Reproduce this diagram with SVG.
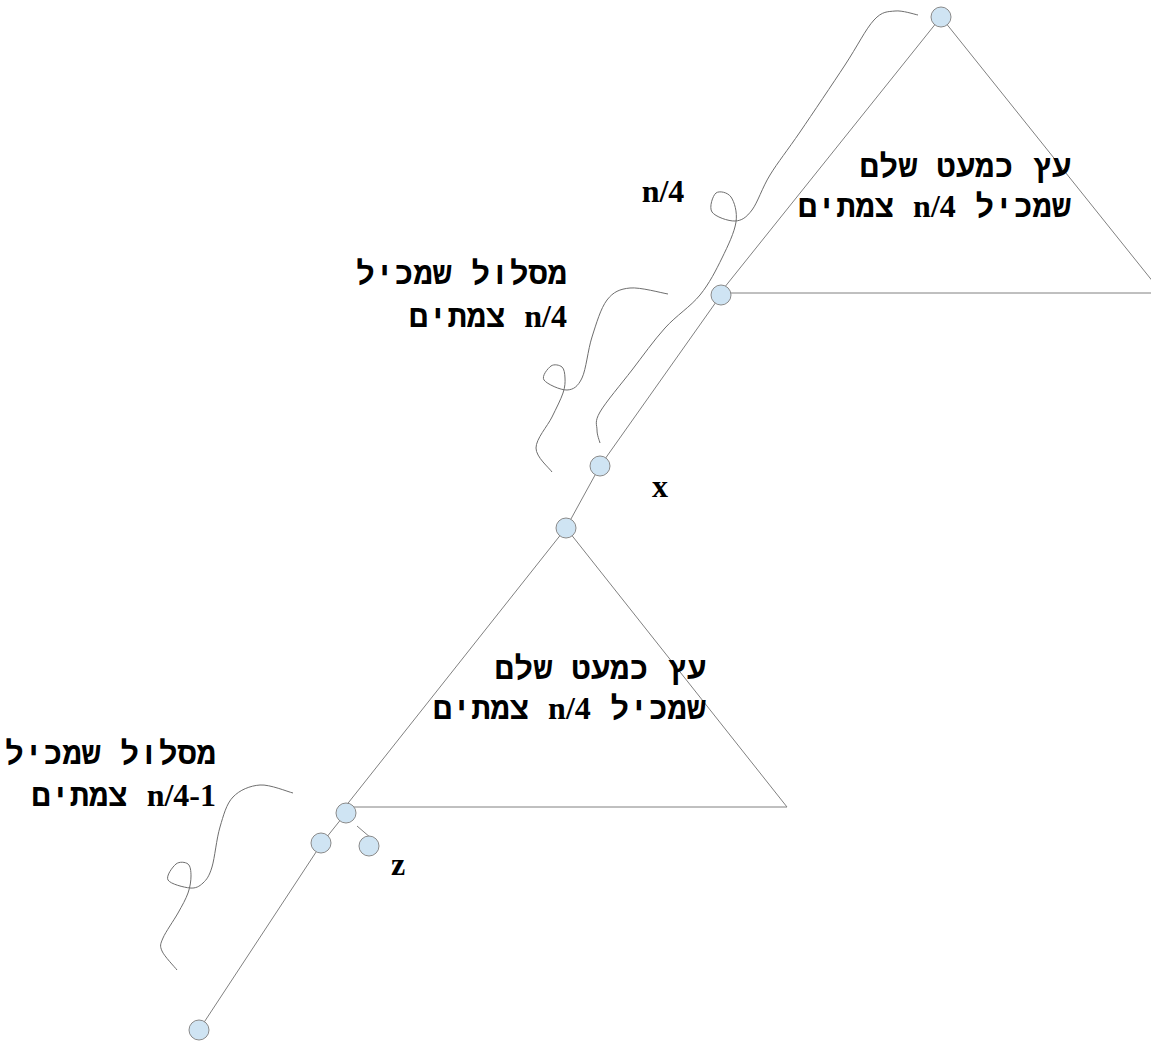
<svg xmlns="http://www.w3.org/2000/svg" width="1151" height="1044" viewBox="0 0 1151 1044">
<style>
.edge{fill:none;stroke:#808080;stroke-width:1}
.brace{fill:none;stroke:#6e6e6e;stroke-width:1}
.node{fill:#cfe4f3;stroke:#8a8a8a;stroke-width:1}
.heb{font-family:"Liberation Mono","DejaVu Sans Mono",monospace;font-weight:bold;font-size:32px;fill:#000;text-anchor:end}
.lat{font-family:"Liberation Serif","Times New Roman",serif;font-weight:bold}
.lbl{font-family:"Liberation Serif","Times New Roman",serif;font-weight:bold;font-size:32px;fill:#000}
</style>
<rect width="1151" height="1044" fill="#fff"/>
<g id="connectors">
<polygon class="edge" points="941,17 720,293 1162,293"/>
<polygon class="edge" points="566,528 345,807 787,807"/>
<line class="edge" x1="721" y1="295" x2="600" y2="466"/>
<line class="edge" x1="600" y1="466" x2="566" y2="528"/>
<line class="edge" x1="346" y1="813" x2="322" y2="843"/>
<line class="edge" x1="357" y1="826" x2="371" y2="838"/>
<line class="edge" x1="322" y1="843" x2="199" y2="1030"/>
<path class="brace" d="M918,15 C914.2,14.3 902.3,10.2 895,11 C887.7,11.8 882.3,11 874,20 C865.7,29 857.3,46.3 845,65 C832.7,83.7 812.5,113.7 800,132 C787.5,150.3 778,162 770,175 C762,188 757.8,202.3 752,210 C746.2,217.7 741.7,220.7 735,221 C728.3,221.3 715.2,216.7 712,212 C708.8,207.3 712.8,195.5 716,193 C719.2,190.5 727.7,192.2 731,197 C734.3,201.8 737.5,211.8 736,222 C734.5,232.2 728,245.8 722,258 C716,270.2 709.5,283.3 700,295 C690.5,306.7 676.3,315.5 665,328 C653.7,340.5 642.8,356 632,370 C621.2,384 605.8,402 600,412 C594.2,422 597,424.8 597,430 C597,435.2 599.5,440.8 600,443"/>
<path class="brace" d="M668,294 C661.7,293 640.2,287 630,288 C619.8,289 613.3,291.8 607,300 C600.7,308.2 596.2,324 592,337 C587.8,350 586.2,369.2 582,378 C577.8,386.8 573.3,389.7 567,390 C560.7,390.3 546.7,384 544,380 C541.3,376 548,368.2 551,366 C554,363.8 559.7,365 562,367 C564.3,369 564.8,373.7 565,378 C565.2,382.3 565.2,386.5 563,393 C560.8,399.5 556.5,407.8 552,417 C547.5,426.2 536,438.8 536,448 C536,457.2 549.3,468 552,472"/>
<path class="brace" d="M293,793 C287.5,791.7 270,784.3 260,785 C250,785.7 239.7,790 233,797 C226.3,804 223.5,815.3 220,827 C216.5,838.7 214.8,857.7 212,867 C209.2,876.3 206.7,879.5 203,883 C199.3,886.5 195.8,888.5 190,888 C184.2,887.5 170.3,884 168,880 C165.7,876 172.7,866.7 176,864 C179.3,861.3 185.5,862 188,864 C190.5,866 191,871.2 191,876 C191,880.8 190.2,886.8 188,893 C185.8,899.2 182.2,905.5 178,913 C173.8,920.5 165.7,931.7 163,938 C160.3,944.3 159.7,945.7 162,951 C164.3,956.3 174.5,966.8 177,970"/>
</g>
<g id="node-a"><circle class="node" cx="941" cy="17" r="10"/></g>
<g id="node-b"><circle class="node" cx="721" cy="295" r="10"/></g>
<g id="node-x"><circle class="node" cx="600" cy="466" r="10"/><text class="lbl" x="660" y="497" text-anchor="middle">x</text></g>
<g id="node-c"><circle class="node" cx="566" cy="528" r="10"/></g>
<g id="node-d"><circle class="node" cx="346" cy="813" r="10"/></g>
<g id="node-e"><circle class="node" cx="321" cy="843" r="10"/></g>
<g id="node-z"><circle class="node" cx="369" cy="846" r="10"/><text class="lbl" x="398" y="875" text-anchor="middle">z</text></g>
<g id="node-f"><circle class="node" cx="199" cy="1030" r="10"/></g>
<g id="tree-top">
<text class="heb" x="1071" y="177">&#x202B;עץ כמעט שלם&#x202C;</text>
<text class="heb" x="1071" y="217">&#x202B;שמכיל <tspan class="lat">n/4</tspan> צמתים&#x202C;</text>
</g>
<g id="tree-bottom">
<text class="heb" x="706" y="679">&#x202B;עץ כמעט שלם&#x202C;</text>
<text class="heb" x="706" y="719">&#x202B;שמכיל <tspan class="lat">n/4</tspan> צמתים&#x202C;</text>
</g>
<g id="label-n4"><text class="lbl" x="663" y="202" text-anchor="middle">n/4</text></g>
<g id="label-path1">
<text class="heb" x="567" y="284">&#x202B;מסלול שמכיל&#x202C;</text>
<text class="heb" x="567" y="327"><tspan class="lat">&#x202B;n/4</tspan> צמתים&#x202C;</text>
</g>
<g id="label-path2">
<text class="heb" x="216" y="764">&#x202B;מסלול שמכיל&#x202C;</text>
<text class="heb" x="216" y="806"><tspan class="lat">&#x202B;n/4-1</tspan> צמתים&#x202C;</text>
</g>
</svg>
